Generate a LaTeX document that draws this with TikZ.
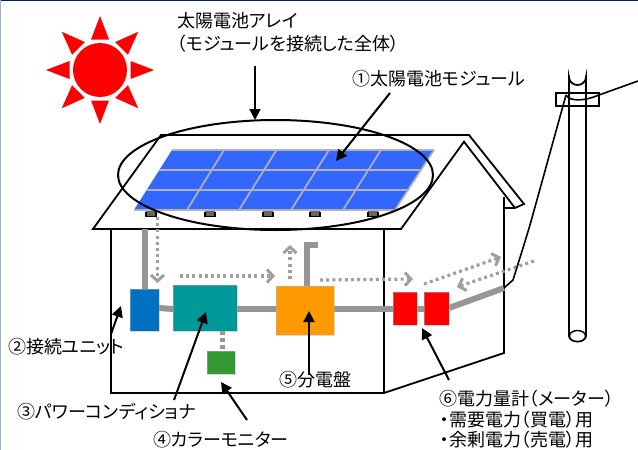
\documentclass[tikz,border=0pt]{standalone}
\usepackage{fontspec}
\setmainfont[RawFeature=+palt]{Noto Sans CJK JP}
\usetikzlibrary{arrows.meta}
\definecolor{wireg}{HTML}{969696}
\definecolor{dotg}{HTML}{A0A0A0}
\definecolor{panelblue}{HTML}{3366FF}
\definecolor{unitblue}{HTML}{0070C0}
\definecolor{topline}{HTML}{002060}
\definecolor{sideline}{HTML}{9DB0D0}
\tikzset{
  callout/.style={draw=black,line width=2pt,-{Triangle[width=11pt,length=11pt]}},
  wire/.style={draw=wireg,line width=6pt},
  flow/.style={draw=dotg,line width=3.2pt,dash pattern=on 3pt off 3.2pt,-{Straight Barb[width=13pt,length=6pt,line width=3pt]}},
  labeltext/.style={inner sep=0pt,anchor=west,font=\fontsize{18}{20}\selectfont,text=black},
  devbox/.style={inner sep=0pt,draw=white!70!black,draw opacity=.5,line width=.4pt},
  outline/.style={draw=black,line width=1.8pt,line join=miter},
  sunray/.style={fill=red,draw=none}
}
\begin{document}
\begin{tikzpicture}[x=1pt,y=-1pt]
\useasboundingbox (0,0) rectangle (638,450);
\fill[white] (0,0) rectangle (638,450);
\fill[topline] (0,0) rectangle (638,1);
\fill[sideline] (0,0) rectangle (1,450);
% sun
\fill[red] (100,70) circle (27);
\foreach \a in {0,45,...,315}{
  \begin{scope}[shift={(100,70)},rotate=\a]
    \fill[sunray] (54,0) -- (30.5,-9) -- (30.5,9) -- cycle;
  \end{scope}}
% house
\draw[outline,fill=white] (111,229) -- (111,393) -- (384,393) -- (504,353) -- (504,197);
\draw[outline] (384,229) -- (384,393);
\draw[outline,fill=white] (161,135) -- (469,135) -- (524,204) -- (515,208) -- (464,141.7) -- (401,229) -- (93,229) -- cycle;
\draw[outline,line width=1.4pt] (504,208) -- (515,208);
% feet
\foreach \x in {151,210,268,315,373}{
  \fill[gray!80!black] (\x-5,210) rectangle (\x+5,217);
  \draw[black,line width=1.4pt] (\x-5,212) -- (\x-5,216.5) -- (\x+5,216.5) -- (\x+5,212);
}
% panel
\fill[panelblue] (172,150) -- (434,150) -- (395,210) -- (134,210) -- cycle;
\begin{scope}[draw=black!30,line width=1.7pt]
\draw (172,150) -- (434,150) (159.3,170) -- (421,170) (146.7,190) -- (408,190) (134,210) -- (395,210);
\draw (224,150) -- (187,210) (276.5,150) -- (239,210) (329,150) -- (291,210) (381,150) -- (343,210) (434,150) -- (395,210);
\end{scope}
% wires
\coordinate (roofdrop) at (144.5,229);
\coordinate (wallin) at (504,288);
\coordinate (stubA) at (306.5,245);
\coordinate (stubB) at (318,245);
\draw[wire] (roofdrop) -- (144.5,289);
\draw[wire] (159,308) -- (173,309);
\draw[wire] (237,308.5) -- (276,308.5);
\draw[wire] (334,308.5) -- (393,308.5);
\draw[wire] (417,308.5) -- (424,308.5);
\draw[wire] (449,308) -- (wallin);
\draw[wire] (306.5,286) -- (stubA) -- (stubB);
\draw[draw=wireg,line width=5pt,dash pattern=on 4pt off 3pt] (222,331) -- (222,351);
% device boxes
\node[devbox,fill=unitblue,minimum width=29pt,minimum height=42pt] (unit) at (144.5,310) {};
\node[devbox,fill={rgb,255:red,0;green,153;blue,153},minimum width=64pt,minimum height=46pt] (pcs) at (205,308) {};
\node[devbox,fill={rgb,255:red,51;green,153;blue,51},minimum width=28pt,minimum height=23pt] (monitor) at (221,362.5) {};
\node[devbox,fill={rgb,255:red,255;green,153;blue,0},minimum width=58pt,minimum height=49pt] (panelbd) at (305,310.5) {};
\node[devbox,fill=red,minimum width=24pt,minimum height=33pt] (m1) at (405,308.5) {};
\node[devbox,fill=red,minimum width=25pt,minimum height=33pt] (m2) at (436.5,308.5) {};
% flows
\coordinate (f1a) at (157.5,217); \coordinate (f1b) at (157.5,283);
\coordinate (f2a) at (180,276); \coordinate (f2b) at (275,276);
\coordinate (f3a) at (290,279); \coordinate (f3b) at (290,245);
\coordinate (f4a) at (320,280); \coordinate (f4b) at (413,279);
\coordinate (f5a) at (424,284); \coordinate (f5b) at (501,257);
\coordinate (f6a) at (534,261); \coordinate (f6b) at (457,287);
\foreach \p/\q in {f1a/f1b,f2a/f2b,f3a/f3b,f4a/f4b,f5a/f5b,f6a/f6b}{\draw[flow] (\p) -- (\q);}
% pole
\draw[outline,line width=1.8pt,fill=white] (569,336) -- (569,77) arc[start angle=180,end angle=0,x radius=8.5,y radius=8] -- (586,336) arc[start angle=0,end angle=180,x radius=8.5,y radius=5.5];
\draw[outline,line width=1.4pt,fill=white] (577.5,336) ellipse[x radius=8,y radius=5.5];
\draw[outline,line width=1.8pt] (556,93) rectangle (599,106);
\draw[black,line width=1.6pt] (566,95) .. controls (570,102) and (585,101) .. (599,95) -- (638,81);
\draw[black,line width=1.6pt] (566,95) -- (530,225) -- (523,248) -- (513,280) -- (wallin);
% array ellipse
\draw[black,line width=2pt] (275.5,175) ellipse[x radius=157.5,y radius=55];
% labels
\node[labeltext] (arrayA) at (177,20.5) {太陽電池アレイ};
\node[labeltext] (arrayB) at (177,43.5) {（モジュールを接続した全体）};
\node[labeltext] (lb1) at (352,78.5) {①太陽電池モジュール};
\node[labeltext] (lb2) at (8,346.5) {②接続ユニット};
\node[labeltext] (lb3) at (17,411.5) {③パワーコンディショナ};
\node[labeltext] (lb4) at (153,439.5) {④カラーモニター};
\node[labeltext] (lb5) at (279,379.5) {⑤分電盤};
\node[labeltext] (lb6) at (439,398.5) {⑥電力量計（メーター）};
\node[labeltext] (lb6a) at (440,419.5) {・需要電力（買電）用};
\node[labeltext] (lb6b) at (440,440) {・余剰電力（売電）用};
% callouts
\coordinate (c0a) at (255,66); \coordinate (c0b) at (255,120);
\coordinate (c1a) at (390,93); \coordinate (c1b) at (336,161);
\coordinate (c2a) at (111,334); \coordinate (c2b) at (121,306);
\coordinate (c3a) at (174,400); \coordinate (c3b) at (206,312);
\coordinate (c4a) at (247,420); \coordinate (c4b) at (221,382);
\coordinate (c5a) at (309,375); \coordinate (c5b) at (309,311);
\coordinate (c6a) at (449,380); \coordinate (c6b) at (422,328);
\foreach \p/\q in {c0a/c0b,c1a/c1b,c2a/c2b,c3a/c3b,c4a/c4b,c5a/c5b,c6a/c6b}{\draw[callout] (\p) -- (\q);}
\end{tikzpicture}
\end{document}
